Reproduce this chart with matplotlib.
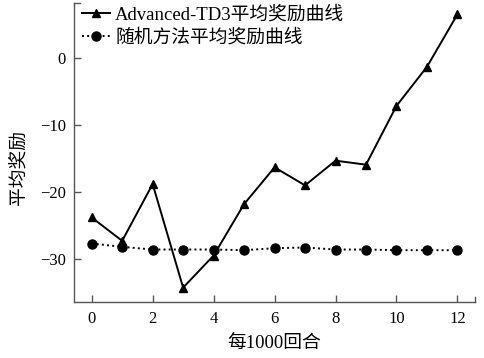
import numpy as np
import matplotlib.pyplot as plt

plt.rcParams['font.family'] = ['Liberation Serif', 'Noto Sans CJK SC']
plt.rcParams['axes.unicode_minus'] = True

# 每1000回合的平均奖励
episodes = np.arange(0, 13)
td3_reward = [-23.8, -27.3, -18.8, -34.3, -29.5, -21.8, -16.3,
              -19.0, -15.3, -15.9, -7.1, -1.25, 6.6]
random_reward = [-27.7, -28.2, -28.6, -28.6, -28.6, -28.7, -28.4,
                 -28.3, -28.6, -28.6, -28.7, -28.7, -28.7]
labels = ['Advanced-TD3平均奖励曲线', '随机方法平均奖励曲线']

fig = plt.figure(figsize=(4.85, 3.58), dpi=100)
ax = fig.add_axes([0.1526, 0.1556, 0.979 - 0.1526, 0.9916 - 0.1556])

ax.plot(episodes, td3_reward, color='black', lw=1.4, marker='^',
        markersize=6, label=labels[0])
ax.plot(episodes, random_reward, color='black', lw=1.4, ls=':', marker='o',
        markersize=6.5, label=labels[1])

ax.set_xlim(-0.58, 12.57)
ax.set_ylim(-36.5, 8.3)
ax.set_xticks(np.arange(0, 13, 2))
ax.set_yticks([-30, -20, -10, 0])

for side in ('top', 'right'):
    ax.spines[side].set_visible(False)
for side in ('left', 'bottom'):
    ax.spines[side].set_color('#555555')
    ax.spines[side].set_linewidth(1.0)

ax.tick_params(direction='in', length=5, width=1.0, color='#555555',
               labelsize=12, pad=6)

# small end caps on the axis lines
ax.plot([0, 0.016], [1, 1], transform=ax.transAxes, color='#555555',
        lw=1.0, clip_on=False)
ax.plot([1, 1], [0, 0.018], transform=ax.transAxes, color='#555555',
        lw=1.0, clip_on=False)

ax.set_xlabel('每1000回合', fontsize=13.5, labelpad=6)
ax.set_ylabel('平均奖励', fontsize=13.5)
ax.yaxis.set_label_coords(-0.115, 0.45)

ax.legend(loc='upper left', frameon=False, fontsize=13.5, handlelength=1.5,
          handletextpad=0.3, borderaxespad=0.0, labelspacing=0.3,
          bbox_to_anchor=(0.0, 1.015))

fig.savefig('out.png', dpi=100)
